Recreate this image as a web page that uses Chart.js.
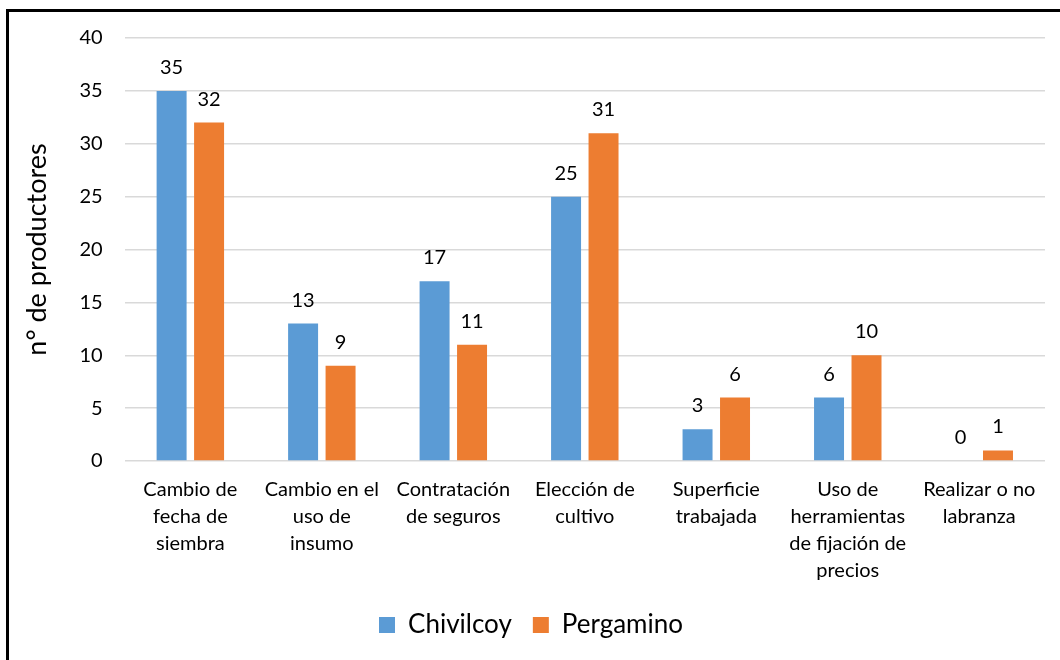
<!DOCTYPE html>
<html>
<head>
<meta charset="utf-8">
<script src="https://cdn.jsdelivr.net/npm/chart.js@4/dist/chart.umd.min.js"></script>
<style>
  html, body { margin: 0; padding: 0; background: #fff; }
  #wrap { position: relative; width: 1060px; height: 660px; overflow: hidden; }
  #frame { position: absolute; left: 6px; top: 9px; width: 1200px; height: 800px;
           border-top: 3px solid #000; border-left: 3px solid #000; pointer-events: none; }
  canvas { position: absolute; left: 0; top: 0; }
</style>
</head>
<body>
<div id="wrap">
  <canvas id="c" width="1060" height="660"></canvas>
  <div id="frame"></div>
</div>
<script>
const categories = [
  ["Cambio de", "fecha de", "siembra"],
  ["Cambio en el", "uso de", "insumo"],
  ["Contratación", "de seguros"],
  ["Elección de", "cultivo"],
  ["Superficie", "trabajada"],
  ["Uso de", "herramientas", "de fijación de", "precios"],
  ["Realizar o no", "labranza"]
];
const chivilcoy = [35, 13, 17, 25, 3, 6, 0];
const pergamino = [32, 9, 11, 31, 6, 10, 1];
const seriesNames = ["Chivilcoy", "Pergamino"];
const yTitle = "n° de productores";

const FONT = "Lato, 'Open Sans', sans-serif";

const valueLabels = {
  id: 'valueLabels',
  afterDatasetsDraw(chart) {
    const ctx = chart.ctx;
    ctx.save();
    ctx.font = "20px " + FONT;
    ctx.fillStyle = "#000";
    ctx.textAlign = "center";
    ctx.textBaseline = "alphabetic";
    chart.data.datasets.forEach((ds, i) => {
      const meta = chart.getDatasetMeta(i);
      meta.data.forEach((bar, j) => {
        ctx.fillText(String(ds.data[j]), bar.x, bar.y - 17);
      });
    });
    ctx.restore();
  }
};

new Chart(document.getElementById('c'), {
  type: 'bar',
  data: {
    labels: categories,
    datasets: [
      { label: seriesNames[0], data: chivilcoy, backgroundColor: '#5B9BD5',
        barPercentage: 0.8, categoryPercentage: 0.57 },
      { label: seriesNames[1], data: pergamino, backgroundColor: '#ED7D31',
        barPercentage: 0.8, categoryPercentage: 0.57 }
    ]
  },
  options: {
    responsive: false,
    animation: false,
    layout: { padding: { left: 17, right: 15, top: 38, bottom: 12 } },
    plugins: {
      legend: {
        position: 'bottom',
        labels: {
          font: { size: 26, family: FONT },
          color: '#000',
          boxWidth: 16,
          boxHeight: 16,
          padding: 21
        }
      },
      tooltip: { enabled: false }
    },
    scales: {
      x: {
        grid: { display: false },
        border: { display: false },
        ticks: { font: { size: 20, family: FONT, lineHeight: 1.35 }, color: '#000', maxRotation: 0, autoSkip: false, padding: 7 }
      },
      y: {
        min: 0, max: 40,
        grid: { color: '#d9d9d9', lineWidth: 1.5, drawTicks: false },
        border: { display: false },
        ticks: { stepSize: 5, font: { size: 20, family: FONT }, color: '#000', padding: 22 },
        title: { display: true, text: yTitle, font: { size: 27, family: FONT }, color: '#000', padding: { bottom: 4 } }
      }
    }
  },
  plugins: [valueLabels]
});
</script>
</body>
</html>
